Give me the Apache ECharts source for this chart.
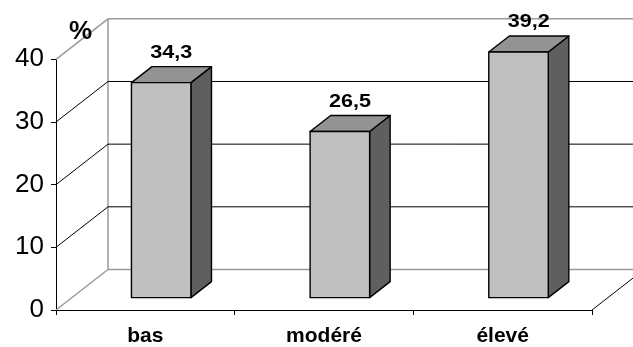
<!DOCTYPE html>
<html>
<head>
<meta charset="utf-8">
<script src="https://cdn.jsdelivr.net/npm/echarts@6/dist/echarts.min.js"></script>
<style>
  html, body { margin: 0; padding: 0; background: #fff; }
  #chart { width: 633px; height: 347px; }
</style>
</head>
<body>
<div id="chart"></div>
<script>
// Share of respondents (%) by level
const categories = ['bas', 'modéré', 'élevé'];
const values = [34.3, 26.5, 39.2];
const valueLabels = ['34,3', '26,5', '39,2'];
const yTicks = [0, 10, 20, 30, 40];

// Oblique projection of the 3D box: offset from the front plane to the back wall (px)
const DEPTH = [52, -40.5];
const BAR_FRONT = 0.305;   // fraction of depth where a bar's front face sits
const BAR_BACK = 0.70;     // fraction of depth where a bar's back face sits
const BAR_RATIO = 0.333;   // bar width as a share of the category band
const FONT = '"Liberation Sans", Arial, sans-serif';

const chart = echarts.init(document.getElementById('chart'), null, { renderer: 'canvas' });

// Back wall, floor edges and gridlines, one datum per y tick
function renderWall(params, api) {
  const cs = params.coordSys;
  const v = api.value(1);
  const y = api.coord([0, v])[1];
  const x0 = cs.x, x1 = cs.x + cs.width;
  const bx0 = x0 + DEPTH[0], by = y + DEPTH[1];
  const isEdge = (v === yTicks[0] || v === yTicks[yTicks.length - 1]);
  const color = isEdge ? '#9a9a9a' : '#000';
  const lw = isEdge ? 1.5 : 1;
  const children = [
    { type: 'line', shape: { x1: x0, y1: y, x2: bx0, y2: by }, style: { stroke: color, lineWidth: lw } },
    { type: 'line', shape: { x1: bx0, y1: by, x2: x1 + DEPTH[0], y2: by }, style: { stroke: color, lineWidth: lw } }
  ];
  if (v === yTicks[0]) {
    const yTop = api.coord([0, yTicks[yTicks.length - 1]])[1] + DEPTH[1];
    children.push(
      { type: 'line', shape: { x1: bx0, y1: by, x2: bx0, y2: yTop }, style: { stroke: '#9a9a9a', lineWidth: 1.5 } },
      { type: 'line', shape: { x1: x1, y1: y, x2: x1 + DEPTH[0], y2: by }, style: { stroke: '#000', lineWidth: 1 } }
    );
  }
  return { type: 'group', children };
}

// Solid 3D column with front, top and side faces, plus its value label
function renderBar(params, api) {
  const i = api.value(0), v = api.value(1);
  const base = api.coord([i, 0]);
  const top = api.coord([i, v]);
  const band = api.size([1, 0])[0];
  const w = band * BAR_RATIO;
  const fx = DEPTH[0] * BAR_FRONT, fy = DEPTH[1] * BAR_FRONT;
  const dx = DEPTH[0] * (BAR_BACK - BAR_FRONT), dy = DEPTH[1] * (BAR_BACK - BAR_FRONT);
  const xl = base[0] - w / 2 + fx, xr = base[0] + w / 2 + fx;
  const yb = base[1] + fy, yt = top[1] + fy;
  const stroke = { stroke: '#000', lineWidth: 1.4, lineJoin: 'round' };
  return {
    type: 'group',
    children: [
      { type: 'polygon', shape: { points: [[xr, yb], [xr + dx, yb + dy], [xr + dx, yt + dy], [xr, yt]] },
        style: Object.assign({ fill: '#5f5f5f' }, stroke) },
      { type: 'polygon', shape: { points: [[xl, yt], [xr, yt], [xr + dx, yt + dy], [xl + dx, yt + dy]] },
        style: Object.assign({ fill: '#939393' }, stroke) },
      { type: 'rect', shape: { x: xl, y: yt, width: xr - xl, height: yb - yt },
        style: Object.assign({ fill: '#c0c0c0' }, stroke) },
      { type: 'text', x: base[0] + DEPTH[0] * 0.5, y: top[1] - 42, scaleX: 1.2,
        style: { text: valueLabels[params.dataIndex], x: 0, y: 0, align: 'center', verticalAlign: 'middle',
                 font: 'bold 18px ' + FONT, fill: '#000' } }
    ]
  };
}

chart.setOption({
  backgroundColor: '#fff',
  animation: false,
  title: {
    text: '%', left: 64, top: 14,
    textStyle: { fontFamily: FONT, fontSize: 26, fontWeight: 'bold', color: '#000' }
  },
  grid: { left: 56, right: 41, top: 59.3, bottom: 35.3 },
  xAxis: {
    type: 'category',
    data: categories,
    boundaryGap: true,
    axisLine: { lineStyle: { color: '#000', width: 1 } },
    axisTick: { show: true, length: 5, lineStyle: { color: '#000' } },
    axisLabel: { fontFamily: FONT, fontSize: 21, fontWeight: 'bold', color: '#000', margin: 16 }
  },
  yAxis: {
    type: 'value',
    min: 0, max: 40, interval: 10,
    axisLine: { show: true, lineStyle: { color: '#000', width: 1 } },
    axisTick: { show: true, length: 5, lineStyle: { color: '#000' } },
    splitLine: { show: false },
    axisLabel: { fontFamily: FONT, fontSize: 26, color: '#000', margin: 12 }
  },
  series: [
    {
      type: 'custom',
      z: 1,
      silent: true,
      renderItem: renderWall,
      data: yTicks.map(t => [0, t])
    },
    {
      type: 'custom',
      z: 5,
      renderItem: renderBar,
      data: values.map((v, i) => [i, v])
    }
  ]
});
</script>
</body>
</html>
